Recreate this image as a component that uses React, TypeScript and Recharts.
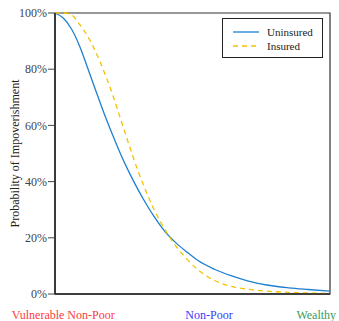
import React from "react";
import { LineChart, Line, XAxis, YAxis, ReferenceArea } from "recharts";

// position along the income scale (0 = vulnerable non-poor, 100 = wealthy)
const income = [0, 3, 6, 9, 12, 15, 18, 21, 24, 27, 30, 33, 36, 40, 44, 48, 52, 58, 64, 70, 77, 85, 92, 100];
const uninsured = [100, 98.2, 94.3, 88.1, 80.1, 71.9, 63.9, 56.5, 49.5, 43.2, 37.5, 32.3, 27.6, 22.2, 18.2, 14.9, 11.9, 8.8, 6.5, 4.7, 3.2, 2.2, 1.6, 1.0];
const insured = [100, 100, 99.3, 95.9, 91.5, 85.7, 78.7, 70.8, 61.8, 52.9, 44.3, 36.8, 30.1, 22.9, 17.0, 12.4, 8.6, 4.8, 2.7, 1.7, 1.0, 0.6, 0.35, 0.2];

const yTicks = [0, 20, 40, 60, 80, 100];
const groupTicks = [3, 56, 95];
const groupNames = ["Vulnerable Non-Poor", "Non-Poor", "Wealthy"];
const groupColors = ["#ff3b3b", "#3b3bff", "#3d9a5c"];

const BLUE = "#1f80d0";
const GOLD = "#f2c200";
const FONT = "'Liberation Serif', 'DejaVu Serif', serif";

const data = income.map((x, i) => ({
  x,
  uninsured: uninsured[i],
  insured: insured[i],
}));

const GroupTick = (props: any) => {
  const { x, y, index } = props;
  return (
    <text
      x={x}
      y={y + 17}
      textAnchor="middle"
      fontFamily={FONT}
      fontSize={12}
      fill={groupColors[index]}
    >
      {groupNames[index]}
    </text>
  );
};

const legendItems = [
  { name: "Uninsured", color: BLUE, dash: undefined },
  { name: "Insured", color: GOLD, dash: "5 4" },
];

const LegendBox = () => (
  <div
    style={{
      position: "absolute",
      left: 222,
      top: 18,
      border: "1px solid #222",
      background: "#fff",
      width: 99,
      padding: "6px 0 4px 0",
      fontFamily: FONT,
      fontSize: 11,
      color: "#222",
    }}
  >
    {legendItems.map((it) => (
      <div key={it.name} style={{ display: "flex", alignItems: "center", height: 14 }}>
        <svg width={44} height={14}>
          <line
            x1={10}
            x2={36}
            y1={7}
            y2={7}
            stroke={it.color}
            strokeWidth={1.3}
            strokeDasharray={it.dash}
          />
        </svg>
        <span>{it.name}</span>
      </div>
    ))}
  </div>
);

export default function App() {
  return (
    <div style={{ position: "absolute", left: 0, top: 0, width: 339, height: 321, background: "#fff" }}>
      <LineChart
        width={339}
        height={321}
        data={data}
        margin={{ top: 13, right: 9, left: 0, bottom: 0 }}
      >
        <XAxis
          dataKey="x"
          type="number"
          domain={[0, 100]}
          ticks={groupTicks}
          tick={<GroupTick />}
          tickLine={false}
          axisLine={{ stroke: "#222", strokeWidth: 1.5 }}
          height={27}
        />
        <YAxis
          domain={[0, 100]}
          ticks={yTicks}
          tickFormatter={(v) => `${v}%`}
          width={55}
          tick={{ fontFamily: FONT, fontSize: 12, fill: "#444" }}
          tickLine={{ stroke: "#444" }}
          tickSize={7}
          tickMargin={1}
          axisLine={{ stroke: "#222", strokeWidth: 1.5 }}
          label={{
            value: "Probability of Impoverishment",
            angle: -90,
            position: "center",
            dx: -13,
            style: { fontFamily: FONT, fontSize: 12, fill: "#222" },
          }}
        />
        <ReferenceArea
          x1={0}
          x2={100}
          y1={0}
          y2={100}
          fill="none"
          stroke="#333"
          strokeWidth={1.2}
        />
        <Line
          dataKey="uninsured"
          type="monotone"
          stroke={BLUE}
          strokeWidth={1.3}
          dot={false}
          isAnimationActive={false}
        />
        <Line
          dataKey="insured"
          type="monotone"
          stroke={GOLD}
          strokeWidth={1.3}
          strokeDasharray="5 4"
          dot={false}
          isAnimationActive={false}
        />
      </LineChart>
      <LegendBox />
    </div>
  );
}
